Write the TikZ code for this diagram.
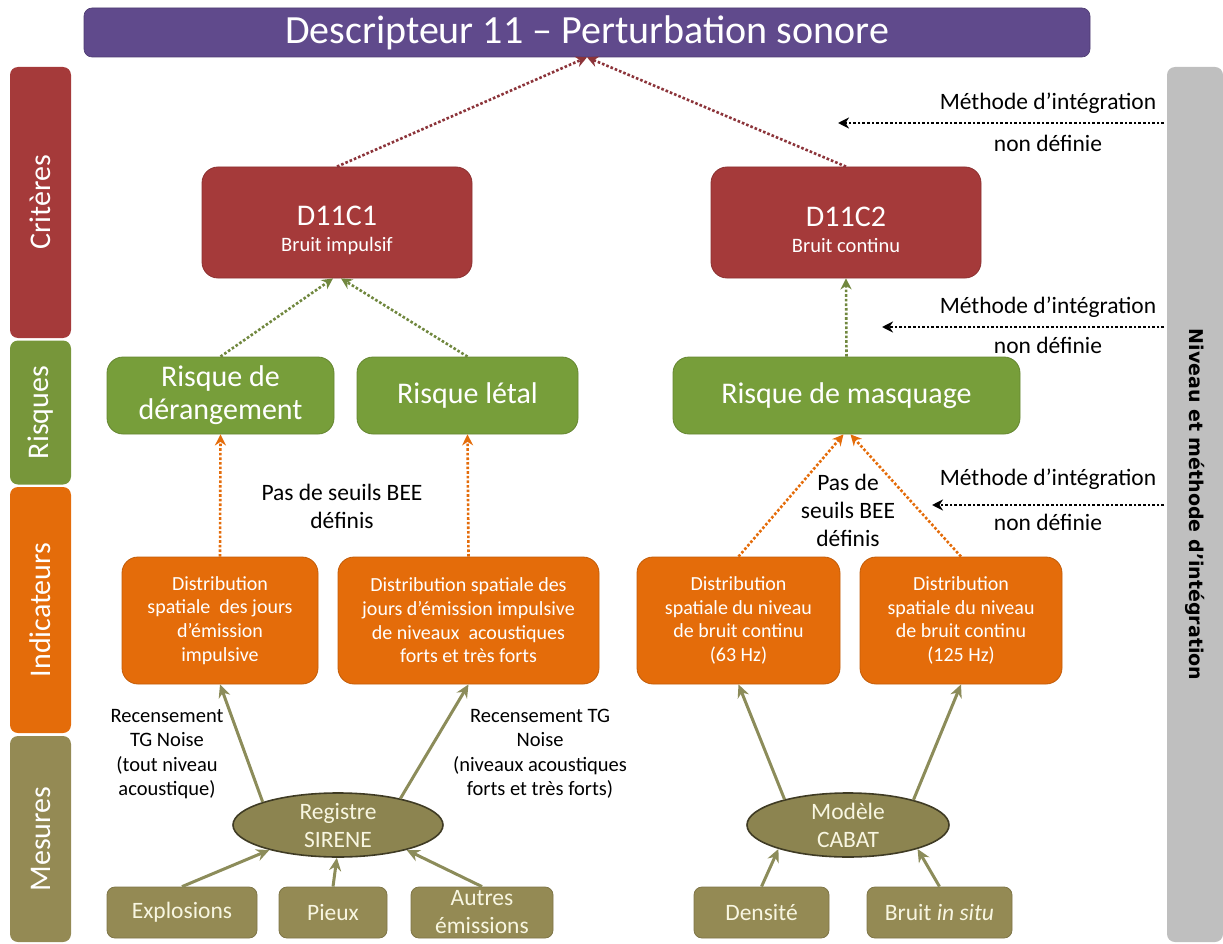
\documentclass[tikz,border=0pt]{standalone}
\usepackage{fontspec}
\setmainfont{Carlito}
\newfontfamily\vfont{DejaVu Sans}
\usetikzlibrary{arrows.meta,shapes.geometric}
\definecolor{ttl}{RGB}{96,74,140}
\definecolor{crit}{RGB}{165,58,58}
\definecolor{risk}{RGB}{119,158,58}
\definecolor{riskbar}{RGB}{119,150,58}
\definecolor{ind}{RGB}{228,108,10}
\definecolor{mes}{RGB}{148,138,84}
\definecolor{ell}{RGB}{140,132,80}
\definecolor{gbar}{RGB}{191,191,191}
\definecolor{arrT}{RGB}{140,52,58}
\definecolor{arrG}{RGB}{112,135,62}
\definecolor{arrO}{RGB}{228,108,10}
\definecolor{arrS}{RGB}{140,140,90}
\definecolor{cream}{RGB}{248,246,225}
\tikzset{
  sidebar/.style={rounded corners=8pt, fill=#1, text=white, inner sep=0pt, font=\fontsize{30}{36}\selectfont},
  rbox/.style={rounded corners=16pt, fill=#1, draw=#1!85!black, line width=0.8pt, text=white, align=center, inner sep=0pt},
  dotarr/.style={draw=#1, line width=2.6pt, dash pattern=on 2.6pt off 2pt, -{Stealth[length=11pt,width=11pt]}},
  solarr/.style={draw=arrS, line width=3pt, -{Stealth[length=13pt,width=12pt]}},
  lbl/.style={align=center, text=black, inner sep=0pt},
  mlbl/.style={lbl, font=\fontsize{23.5}{28}\selectfont},
  rlbl/.style={lbl, font=\fontsize{20.5}{24.5}\selectfont},
  indtxt/.style={font=\fontsize{20}{23.7}\selectfont},
  mestxt/.style={font=\fontsize{23.5}{28}\selectfont, text=cream},
  crittxt/.style={font=\fontsize{30}{26}\selectfont},
}
\begin{document}
\begin{tikzpicture}[x=1pt,y=-1pt]
\useasboundingbox (0,0) rectangle (1223,944);
% title
\node[rounded corners=8pt, fill=ttl, draw=ttl!80!black, line width=0.6pt, minimum width=1006, minimum height=49, inner sep=0pt, text=white, font=\fontsize{40}{44}\selectfont] (title) at (587,32.5) {Descripteur 11 – Perturbation sonore};
% side bars
\node[sidebar=crit, rotate=90, minimum width=271, minimum height=61] (barC) at (40.5,202.5) {Critères};
\node[sidebar=riskbar, rotate=90, minimum width=144, minimum height=61] (barR) at (40.5,412.5) {Risques};
\node[sidebar=ind, rotate=90, minimum width=246, minimum height=61] (barI) at (40.5,610) {Indicateurs};
\node[sidebar=mes, rotate=90, minimum width=206, minimum height=61] (barM) at (40.5,839) {Mesures};
\node[rounded corners=8pt, fill=gbar, rotate=-90, minimum width=875, minimum height=56, inner sep=0pt, font=\vfont\bfseries\fontsize{19}{23}\selectfont] (gbar) at (1195,504.5) {Niveau et méthode d’intégration};
% criteria
\node[rbox=crit, crittxt, minimum width=270, minimum height=111] (c1) at (337,222.5) {\mbox{}\\[9pt]D11C1\\{\fontsize{20.5}{24}\selectfont Bruit impulsif}};
\node[rbox=crit, crittxt, minimum width=270, minimum height=111] (c2) at (846,222.5) {\mbox{}\\[9pt]D11C2\\{\fontsize{20.5}{24}\selectfont Bruit continu}};
% risks
\node[rbox=risk, minimum width=227, minimum height=77, font=\fontsize{30}{33}\selectfont] (r1) at (220.5,395.5) {Risque de\\dérangement};
\node[rbox=risk, minimum width=221, minimum height=77, font=\fontsize{30}{33}\selectfont] (r2) at (467.5,395.5) {Risque létal};
\node[rbox=risk, minimum width=347, minimum height=77, font=\fontsize{30}{33}\selectfont] (rm) at (846.5,395.5) {Risque de masquage};
% indicators
\node[rbox=ind, indtxt, minimum width=196, minimum height=127] (i1) at (220,620.5) {Distribution\\spatiale\ \ des jours\\d’émission\\impulsive};
\node[rbox=ind, indtxt, minimum width=261, minimum height=127] (i2) at (468.5,620.5) {Distribution spatiale des\\jours d’émission impulsive\\de niveaux\ \ acoustiques\\forts et très forts};
\node[rbox=ind, indtxt, minimum width=203, minimum height=127] (i3) at (738.5,620.5) {Distribution\\spatiale du niveau\\de bruit continu\\(63 Hz)};
\node[rbox=ind, indtxt, minimum width=202, minimum height=127] (i4) at (961,620.5) {Distribution\\spatiale du niveau\\de bruit continu\\(125 Hz)};
% measures
\node[ellipse, fill=ell, draw=ell!45!black, line width=1.6pt, minimum width=210, minimum height=64, inner sep=0pt, align=center, mestxt] (s) at (338,825) {Registre\\SIRENE};
\node[ellipse, fill=ell, draw=ell!45!black, line width=1.6pt, minimum width=202, minimum height=64, inner sep=0pt, align=center, mestxt] (cb) at (848,825) {Modèle\\CABAT};
\node[rbox=mes, mestxt, rounded corners=8pt, minimum width=150, minimum height=51] (ex) at (182,912.5) {Explosions};
\node[rbox=mes, mestxt, rounded corners=8pt, minimum width=108, minimum height=51] (pi) at (333,912.5) {Pieux};
\node[rbox=mes, mestxt, rounded corners=8pt, minimum width=142, minimum height=51] (au) at (482,912.5) {Autres\\émissions};
\node[rbox=mes, mestxt, rounded corners=8pt, minimum width=135, minimum height=51] (de) at (761.5,912.5) {Densité};
\node[rbox=mes, mestxt, rounded corners=8pt, minimum width=145, minimum height=51] (bi) at (939.5,912.5) {Bruit \textit{in situ}};
% dotted arrows
\draw[dotarr=arrT] (c1.north) -- (title.south);
\draw[dotarr=arrT] (c2.north) -- (title.south);
\draw[dotarr=arrG] (r1.north) -- ([xshift=-4pt]c1.south);
\draw[dotarr=arrG] (r2.north) -- ([xshift=4pt]c1.south);
\draw[dotarr=arrG] (rm.north) -- (c2.south);
\draw[dotarr=arrO] (i1.north) -- (r1.south);
\draw[dotarr=arrO] (i2.north) -- (r2.south);
\draw[dotarr=arrO] (i3.north) -- ([xshift=-3pt]rm.south);
\draw[dotarr=arrO] (i4.north) -- ([xshift=4pt]rm.south);
% integration arrows
\coordinate (g1s) at (1164,123); \coordinate (g1e) at (838,123);
\coordinate (g2s) at (1164,327); \coordinate (g2e) at (882,327);
\coordinate (g3s) at (1164,505); \coordinate (g3e) at (932,505);
\draw[dotarr=black] (g1s) -- (g1e);
\draw[dotarr=black] (g2s) -- (g2e);
\draw[dotarr=black] (g3s) -- (g3e);
\node[mlbl] (m1a) at (1048,103) {Méthode d’intégration};
\node[mlbl] (m1b) at (1048,143) {non définie};
\node[mlbl] (m2a) at (1048,307) {Méthode d’intégration};
\node[mlbl] (m2b) at (1048,345) {non définie};
\node[mlbl] (m3a) at (1048,479) {Méthode d’intégration};
\node[mlbl] (m3b) at (1048,522) {non définie};
\node[mlbl] (pas1) at (342,506) {Pas de seuils BEE\\définis};
\node[mlbl] (pas2) at (848,510) {Pas de\\seuils BEE\\définis};
% solid arrows
\draw[solarr] (s.163) -- (i1.south);
\draw[solarr] (s.23) -- (i2.south);
\draw[solarr] (ex.north) -- (s.200);
\draw[solarr] (pi.north) -- (s.268);
\draw[solarr] (au.north) -- (s.340);
\draw[solarr] (cb.158) -- (i3.south);
\draw[solarr] (cb.21) -- (i4.south);
\draw[solarr] (de.north) -- (cb.199);
\draw[solarr] (bi.north) -- (cb.341);
\node[rlbl] (rec1) at (167,754) {Recensement\\TG Noise\\(tout niveau\\acoustique)};
\node[rlbl] (rec2) at (540,754) {Recensement TG\\Noise\\(niveaux acoustiques\\forts et très forts)};
\end{tikzpicture}
\end{document}
